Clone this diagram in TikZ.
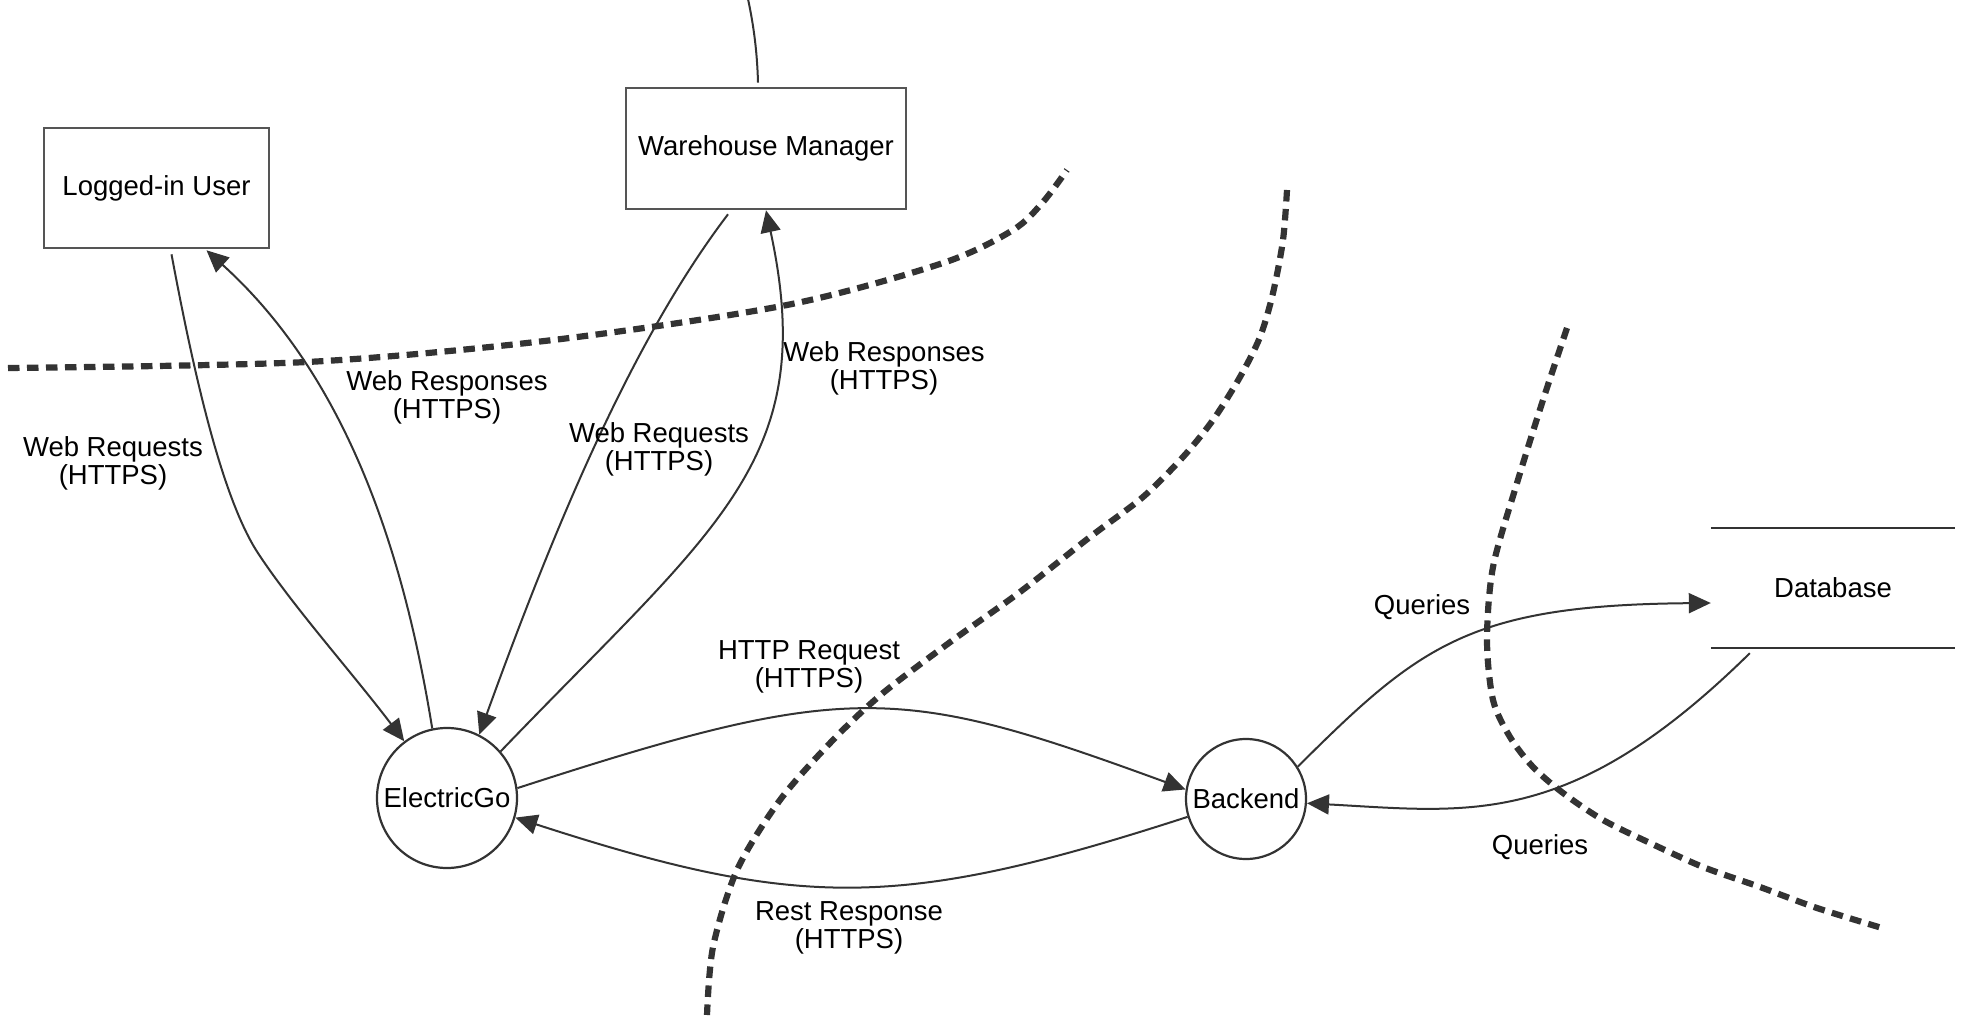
\documentclass[tikz,border=0pt]{standalone}
\usepackage{fontspec}
\setmainfont{Liberation Sans}
\usetikzlibrary{arrows.meta}
\definecolor{ink}{HTML}{333333}
\definecolor{boxgray}{HTML}{555555}
\begin{document}
\begin{tikzpicture}[x=1pt,y=-1pt,
  every node/.style={font=\fontsize{27.5}{28}\selectfont, text=black},
  box/.style={draw=boxgray, line width=2.6pt, rectangle, inner sep=0pt},
  proc/.style={draw=ink, line width=2.2pt, circle, inner sep=0pt},
  store/.style={rectangle, inner sep=0pt, minimum width=244pt, minimum height=120pt},
  storeline/.style={draw=ink, line width=2.4pt},
  lbl/.style={inner sep=0pt, align=center},
  wire/.style={draw=ink, line width=2pt},
  conn/.style={wire, -{Triangle[length=22pt,width=20pt]}},
  bound/.style={draw=ink, line width=6.2pt, dash pattern=on 11.5pt off 7.5pt}
]
\useasboundingbox (0,0) rectangle (1970,1024);

% nodes
\node[box, minimum width=225pt, minimum height=120pt] (user) at (156.5,188) {Logged-in User};
\node[box, minimum width=280pt, minimum height=121pt] (wm) at (766,148.5) {Warehouse Manager};
\node[proc, minimum size=140pt] (eg) at (447,798) {ElectricGo};
\node[proc, minimum size=120pt] (be) at (1246,799) {Backend};
\node[store] (db) at (1833,588) {Database};
\draw[storeline] (db.north west) -- (db.north east);
\draw[storeline] (db.south west) -- (db.south east);

% trust boundaries
\draw[bound] plot[smooth] coordinates {(8,368) (307,362) (553,340) (787,305) (943,263) (1013,230) (1043,202) (1067,170)};
\draw[bound] plot[smooth] coordinates {(1287,190) (1283,240) (1273,293) (1260,337) (1240,377) (1213,420) (1183,457) (1143,497) (1090,537) (1020,592) (953,640) (883,693) (833,740) (780,800) (737,870) (713,947) (707,1015)};
\draw[bound] plot[smooth] coordinates {(1567,328) (1543,400) (1517,483) (1493,567) (1487,640) (1493,700) (1510,737) (1533,767) (1563,793) (1603,820) (1650,843) (1703,867) (1760,887) (1817,908) (1882,928)};

% connectors
\coordinate (top) at (748,-1);
\draw[wire] ([xshift=-8pt,yshift=4pt]wm.north) .. controls (757,45) and (752,18) .. (top);

\draw[conn] ([xshift=15pt,yshift=-5pt]user.south) .. controls (195,380) and (222,495) .. (256,550) .. controls (290,603) and (350,670) .. (eg.127);
\draw[conn] (eg.102) .. controls (405,560) and (350,380) .. ([xshift=50pt,yshift=-1pt]user.south);
\draw[conn] ([xshift=-38pt,yshift=-4pt]wm.south) .. controls (630,343) and (552,534) .. (eg.63);
\draw[conn] (eg.41) .. controls (718,525) and (820,460) .. (wm.south);
\draw[conn] (eg.8) .. controls (850,680) and (900,685) .. (be.171);
\draw[conn] (be.197) .. controls (900,910) and (800,910) .. (eg.-16);
\draw[conn] (be.32) .. controls (1420,645) and (1470,605) .. ([yshift=-15pt]db.west);
\draw[conn] ([xshift=39pt,yshift=-5pt]db.south west) .. controls (1570,830) and (1470,812) .. (be.-4);

% labels
\node[lbl] (l1) at (113,463) {Web Requests\\(HTTPS)};
\node[lbl] (l2) at (447,397) {Web Responses\\(HTTPS)};
\node[lbl] (l3) at (659,449) {Web Requests\\(HTTPS)};
\node[lbl] (l4) at (884,368) {Web Responses\\(HTTPS)};
\node[lbl] (l5) at (809,667) {HTTP Request\\(HTTPS)};
\node[lbl] (l6) at (849,928) {Rest Response\\(HTTPS)};
\node[lbl] (l7) at (1422,607) {Queries};
\node[lbl] (l8) at (1540,847) {Queries};
\end{tikzpicture}
\end{document}
